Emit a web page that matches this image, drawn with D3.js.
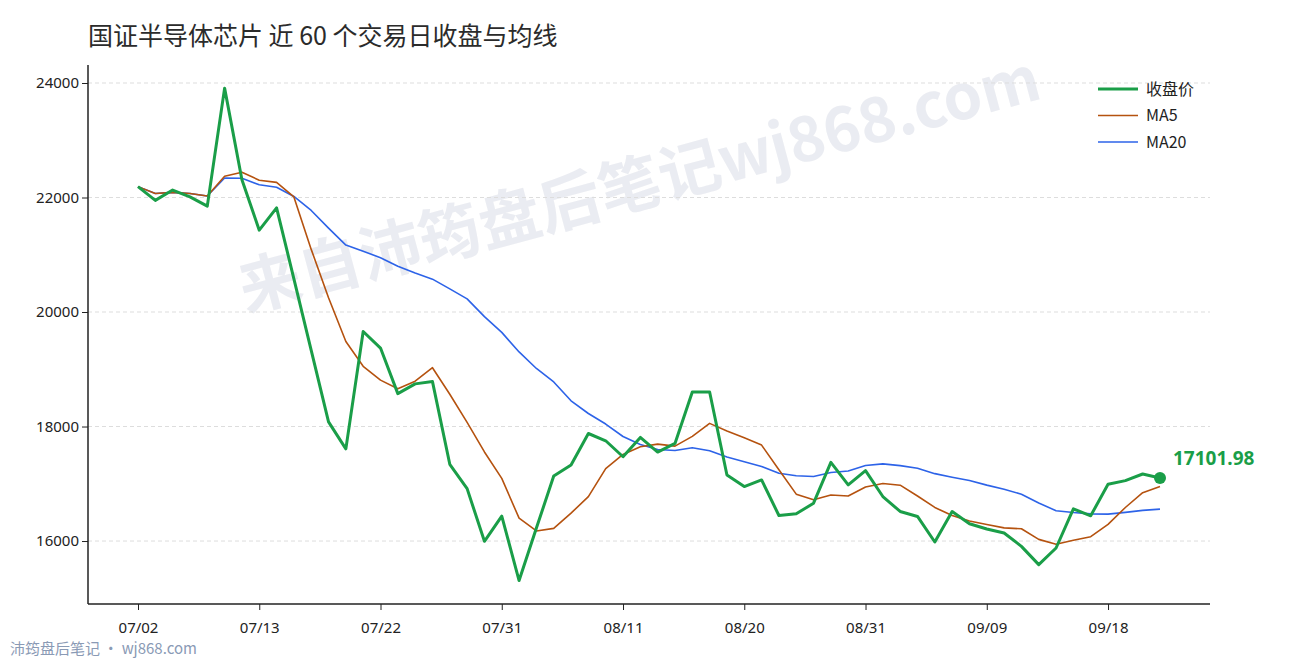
<!DOCTYPE html>
<html><head><meta charset="utf-8">
<script src="https://cdn.jsdelivr.net/npm/d3@7"></script>
<style>body{margin:0;background:#fff;font-family:"Noto Sans CJK SC","Noto Sans",sans-serif;}</style>
</head><body><svg id="chart" width="1290" height="660"></svg>
<script>
// closing prices, 60 trading days
var closes = [22190, 21950, 22130, 22010, 21850, 23910, 22310, 21430, 21820, 20580,
  19330, 18080, 17610, 19660, 19370, 18575, 18745, 18785, 17340, 16915,
  15995, 16435, 15310, 16226, 17136, 17328, 17878, 17751, 17472, 17809,
  17554, 17704, 18603, 18603, 17154, 16951, 17067, 16446, 16475, 16661,
  17374, 16980, 17229, 16777, 16516, 16429, 15983, 16516, 16301, 16209,
  16139, 15907, 15588, 15878, 16562, 16441, 16991, 17055, 17171, 17101.98];
var tickIdx = [0, 7, 14, 21, 28, 35, 42, 49, 56];
var tickLabels = ["07/02", "07/13", "07/22", "07/31", "08/11", "08/20", "08/31", "09/09", "09/18"];
var yTicks = [16000, 18000, 20000, 22000, 24000];
var series = [
  {name: "收盘价", color: "#1a9e48", width: 3},
  {name: "MA5", color: "#b5520f", width: 1.6, win: 5},
  {name: "MA20", color: "#2d63e8", width: 1.6, win: 20}
];

function movingAvg(arr, n) {
  return arr.map(function(d, i) {
    var s = arr.slice(Math.max(0, i - n + 1), i + 1);
    return d3.mean(s);
  });
}
series[0].values = closes;
series[1].values = movingAvg(closes, 5);
series[2].values = movingAvg(closes, 20);

var svg = d3.select("#chart");
var x = d3.scaleLinear().domain([0, closes.length - 1]).range([138, 1160]);
var y = d3.scaleLinear().domain([14900, 24000]).range([604, 83]);

// watermark
svg.append("text").attr("transform", "translate(645,205) rotate(-15)")
  .attr("text-anchor", "middle").attr("font-size", 62).attr("font-weight", "bold")
  .attr("fill", "#e6e8ef").attr("opacity", 0.8).text("来自沛筠盘后笔记wj868.com");

// grid
svg.append("g").selectAll("line").data(yTicks).join("line")
  .attr("x1", 88).attr("x2", 1210).attr("y1", y).attr("y2", y)
  .attr("stroke", "#dddddd").attr("stroke-dasharray", "4,3");

var xAxis = svg.append("g").attr("transform", "translate(0,604)")
  .call(d3.axisBottom(x).tickValues(tickIdx).tickFormat(function(d, i) { return tickLabels[i]; }).tickSizeOuter(0));
var yAxis = svg.append("g").attr("transform", "translate(88,0)")
  .call(d3.axisLeft(y).tickValues(yTicks).tickFormat(d3.format("d")).tickSizeOuter(0));
[xAxis, yAxis].forEach(function(a) {
  a.selectAll("text").attr("font-size", 15).attr("fill", "#222").attr("font-family", "Noto Sans, sans-serif");
  a.selectAll("line").attr("stroke", "#222");
  a.select(".domain").attr("stroke", "#222").attr("stroke-width", 1.5);
});
xAxis.select(".domain").attr("d", "M88,0H1210");
yAxis.select(".domain").attr("d", "M0,65V604");
xAxis.selectAll("text").attr("dy", "1.3em");

var line = d3.line().x(function(d, i) { return x(i); }).y(function(d) { return y(d); });
series.slice().reverse().forEach(function(s) {
  svg.append("path").datum(s.values).attr("d", line).attr("fill", "none")
    .attr("stroke", s.color).attr("stroke-width", s.width).attr("stroke-linejoin", "round");
});

var last = closes.length - 1;
svg.append("circle").attr("cx", x(last)).attr("cy", y(closes[last])).attr("r", 6).attr("fill", "#1a9e48");
svg.append("text").attr("x", x(last) + 13).attr("y", y(closes[last]) - 13)
  .attr("font-size", 19).attr("font-weight", "bold").attr("fill", "#1a9e48")
  .attr("font-family", "Noto Sans, sans-serif").text(d3.format(".2f")(closes[last]));

// legend
var lg = svg.append("g").selectAll("g").data(series).join("g")
  .attr("transform", function(d, i) { return "translate(1098," + (89 + i * 26.5) + ")"; });
lg.append("line").attr("x1", 0).attr("x2", 40).attr("stroke", function(d) { return d.color; })
  .attr("stroke-width", function(d) { return d.width; });
lg.append("text").attr("x", 48).attr("dy", "0.35em").attr("font-size", 16).attr("fill", "#222")
  .text(function(d) { return d.name; });

svg.append("text").attr("x", 88).attr("y", 45).attr("font-size", 25).attr("fill", "#2b2b2b")
  .text("国证半导体芯片 近 60 个交易日收盘与均线");
svg.append("text").attr("x", 10).attr("y", 654).attr("font-size", 15).attr("fill", "#8a9ab5")
  .text("沛筠盘后笔记 · wj868.com");
</script></body></html>
